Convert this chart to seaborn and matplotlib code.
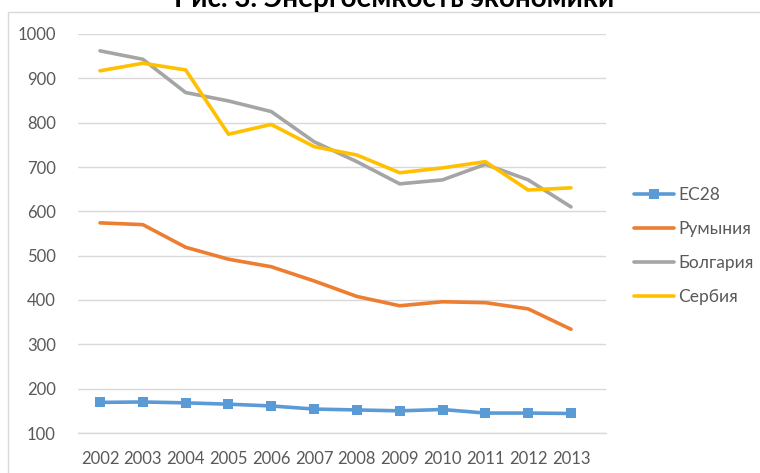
import matplotlib
matplotlib.use("Agg")
import matplotlib.pyplot as plt
import seaborn as sns
import pandas as pd
from matplotlib.patches import Rectangle

years = [2002, 2003, 2004, 2005, 2006, 2007, 2008, 2009, 2010, 2011, 2012, 2013]
eu28 = [169, 170, 168, 165, 161, 154, 152, 150, 153, 145, 145, 144]
romania = [574, 570, 519, 492, 475, 443, 408, 387, 396, 394, 380, 334]
bulgaria = [962, 943, 868, 849, 825, 757, 712, 662, 671, 706, 671, 610]
serbia = [917, 934, 919, 774, 796, 746, 727, 687, 698, 712, 648, 653]
series_names = ["ЕС28", "Румыния", "Болгария", "Сербия"]
title = "Рис. 3. Энергоемкость экономики"
yticks = [100, 200, 300, 400, 500, 600, 700, 800, 900, 1000]

colors = ["#5B9BD5", "#ED7D31", "#A5A5A5", "#FFC000"]

sns.set_theme(style="white")
plt.rcParams["font.family"] = ["Lato", "DejaVu Sans"]

df = pd.DataFrame({"year": years * 4,
                   "value": eu28 + romania + bulgaria + serbia,
                   "series": sum([[n] * len(years) for n in series_names], [])})

fig = plt.figure(figsize=(7.6, 4.73), dpi=100)
ax = fig.add_axes([78 / 760, 1 - 433 / 473, (606 - 78) / 760, (433 - 34) / 473])

fig.patches.append(Rectangle((8 / 760, -0.5), 1.5, 1.5 - 12 / 473,
                             transform=fig.transFigure, fill=False,
                             edgecolor="#D9D9D9", linewidth=1.0, zorder=0))

for name, col in zip(series_names, colors):
    sub = df[df["series"] == name]
    sns.lineplot(data=sub, x="year", y="value", ax=ax, color=col, linewidth=2.6,
                 marker="s" if name == "ЕС28" else None, markersize=7,
                 markeredgewidth=0, label=name, zorder=3)

ax.set_xlim(2002 - 22 / 42.8, 2013 + 35 / 42.8)
ax.set_ylim(100, 1000)
ax.set_xticks(years)
ax.set_xticklabels([str(y) for y in years])
ax.set_yticks(yticks)
ax.set_yticklabels([str(v) for v in yticks])
ax.set_xlabel("")
ax.set_ylabel("")
ax.grid(axis="y", color="#D9D9D9", linewidth=1.0)
ax.grid(axis="x", visible=False)
for s in ["top", "right", "left"]:
    ax.spines[s].set_visible(False)
ax.spines["bottom"].set_color("#D9D9D9")
ax.spines["bottom"].set_linewidth(1.0)
ax.tick_params(axis="both", length=0, labelsize=12, labelcolor="#595959")
ax.tick_params(axis="x", pad=13)
ax.tick_params(axis="y", pad=16)

leg = ax.legend(loc="center left", bbox_to_anchor=(634 / 760, 1 - 246 / 473),
                bbox_transform=fig.transFigure, frameon=False, fontsize=12.5,
                handlelength=2.3, handletextpad=0.25, labelspacing=1.05,
                borderpad=0, borderaxespad=0)
for t in leg.get_texts():
    t.set_color("#595959")

fig.text(394 / 760, 1 - 7 / 473, title, ha="center", va="baseline", fontsize=20,
         fontweight="bold", color="#000000")

fig.savefig("out.png", dpi=100)
